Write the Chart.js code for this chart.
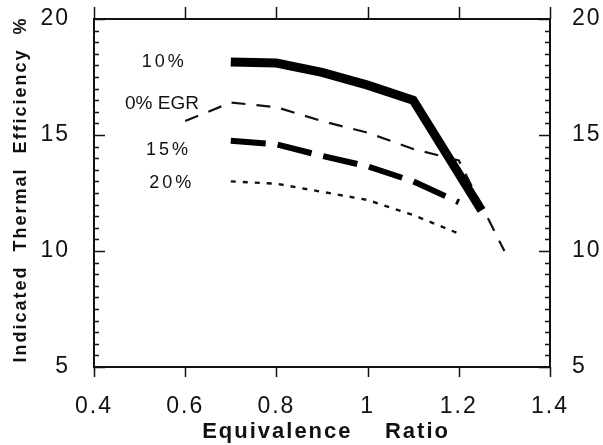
<!DOCTYPE html>
<html>
<head>
<title>Indicated Thermal Efficiency</title>
<script src="https://cdn.jsdelivr.net/npm/chart.js"></script>
<style>
  body { margin: 0; background: #fff; }
  #wrap { width: 603px; height: 445px; }
</style>
</head>
<body>
<div id="wrap"><canvas id="chart" width="603" height="445"></canvas></div>
<script>
  // curves (equivalence ratio -> efficiency %)
  const egr10X = [0.7, 0.8, 0.9, 1.0, 1.1, 1.25];
  const egr10Y = [18.15, 18.1, 17.7, 17.15, 16.5, 11.75];
  const egr0X = [0.6, 0.7, 0.8, 0.9, 1.0, 1.1, 1.2, 1.3];
  const egr0Y = [15.6, 16.4, 16.2, 15.6, 15.1, 14.4, 13.9, 10.0];
  const egr15X = [0.7, 0.8, 0.9, 1.0, 1.1, 1.2];
  const egr15Y = [14.75, 14.6, 14.1, 13.65, 13.0, 12.1];
  const egr20X = [0.7, 0.8, 0.9, 1.0, 1.1, 1.2];
  const egr20Y = [13.0, 12.9, 12.55, 12.2, 11.55, 10.75];

  const xTicks = [0.4, 0.6, 0.8, 1.0, 1.2, 1.4];
  const yTicks = [5, 10, 15, 20];
  const yMinor = 0.5;

  // curve labels, anchored in data units
  const curveLabels = [
    { text: '10%', x: 0.551, y: 18.15, big: true },
    { text: '0% EGR', x: 0.549, y: 16.34, big: false },
    { text: '15%', x: 0.56, y: 14.35, big: true },
    { text: '20%', x: 0.567, y: 12.93, big: true }
  ];

  const FONT = "'Liberation Sans', Arial, sans-serif";
  const pts = (xs, ys) => xs.map((x, i) => ({ x: x, y: ys[i] }));
  const noPad = s => { s.paddingTop = 0; s.paddingBottom = 0; };

  const framePlugin = {
    id: 'frame',
    beforeDraw(chart) {
      chart.ctx.letterSpacing = '2px';
    },
    afterDraw(chart) {
      const { ctx, chartArea: a, scales } = chart;
      ctx.save();
      ctx.strokeStyle = '#111';
      ctx.lineWidth = 2;
      ctx.strokeRect(a.left, a.top, a.right - a.left, a.bottom - a.top);

      // y ticks, inside on both sides
      ctx.lineWidth = 1.5;
      ctx.beginPath();
      for (let v = scales.y.min; v <= scales.y.max + 1e-6; v += yMinor) {
        const py = Math.round(scales.y.getPixelForValue(v)) + 0.5;
        const major = yTicks.some(t => Math.abs(t - v) < 1e-6);
        const len = major ? 11 : 5;
        ctx.moveTo(a.left, py); ctx.lineTo(a.left + len, py);
        ctx.moveTo(a.right, py); ctx.lineTo(a.right - len, py);
      }
      // x ticks, outside top and bottom
      xTicks.forEach(t => {
        const px = Math.round(scales.x.getPixelForValue(t)) + 0.5;
        ctx.moveTo(px, a.bottom); ctx.lineTo(px, a.bottom + 10);
        ctx.moveTo(px, a.top); ctx.lineTo(px, a.top - 12);
      });
      ctx.stroke();

      // curve labels
      ctx.fillStyle = '#111';
      ctx.textAlign = 'center';
      ctx.textBaseline = 'middle';
      curveLabels.forEach(l => {
        ctx.font = (l.big ? '18px ' : '19px ') + FONT;
        ctx.letterSpacing = l.big ? '3px' : '0px';
        const off = l.big ? 1.5 : 0;
        ctx.fillText(l.text, scales.x.getPixelForValue(l.x) + off, scales.y.getPixelForValue(l.y));
      });
      ctx.restore();
      ctx.letterSpacing = '0px';
    }
  };

  new Chart(document.getElementById('chart'), {
    type: 'line',
    data: {
      datasets: [
        { label: '10%', data: pts(egr10X, egr10Y), borderColor: '#000', borderWidth: 9,
          borderCapStyle: 'butt', borderJoinStyle: 'miter' },
        { label: '0% EGR', data: pts(egr0X, egr0Y), borderColor: '#111', borderWidth: 2.2,
          borderDash: [14, 11] },
        { label: '15%', data: pts(egr15X, egr15Y), borderColor: '#000', borderWidth: 6,
          borderDash: [35, 12], borderCapStyle: 'butt' },
        { label: '20%', data: pts(egr20X, egr20Y), borderColor: '#111', borderWidth: 2.4,
          borderDash: [5, 7] }
      ]
    },
    options: {
      responsive: false,
      animation: false,
      events: [],
      layout: { padding: { top: 19, left: 0, right: 0, bottom: 0 } },
      elements: { point: { radius: 0 }, line: { tension: 0, fill: false } },
      plugins: { legend: { display: false }, tooltip: { enabled: false } },
      scales: {
        x: {
          type: 'linear', min: 0.4, max: 1.4,
          afterBuildTicks: s => { s.ticks = xTicks.map(v => ({ value: v })); },
          afterFit: s => { s.height = 78; s.paddingLeft = 0; s.paddingRight = 0; },
          grid: { display: false, drawTicks: false },
          border: { display: false },
          ticks: {
            padding: 26, color: '#111', maxRotation: 0, autoSkip: false,
            font: { family: FONT, size: 23 },
            callback: v => String(+v.toFixed(1))
          },
          title: {
            display: true, text: ' Equivalence    Ratio', color: '#111',
            font: { family: FONT, size: 22, weight: 'bold' }, padding: { top: 2, bottom: 0 }
          }
        },
        y: {
          type: 'linear', position: 'left', min: 5, max: 20,
          afterBuildTicks: s => { s.ticks = yTicks.map(v => ({ value: v })); },
          afterFit: s => { s.width = 94; noPad(s); },
          grid: { display: false, drawTicks: false },
          border: { display: false },
          ticks: { padding: 24, color: '#111', font: { family: FONT, size: 23 } },
          title: {
            display: true, text: ' Indicated  Thermal  Efficiency  %', color: '#111',
            font: { family: FONT, size: 18, weight: 'bold' }, padding: { top: 10, bottom: 0 }
          }
        },
        y2: {
          type: 'linear', position: 'right', min: 5, max: 20,
          afterBuildTicks: s => { s.ticks = yTicks.map(v => ({ value: v })); },
          afterFit: s => { s.width = 53; noPad(s); },
          grid: { display: false, drawTicks: false },
          border: { display: false },
          ticks: { padding: 22, color: '#111', font: { family: FONT, size: 23 } }
        }
      }
    },
    plugins: [framePlugin]
  });
</script>
</body>
</html>
